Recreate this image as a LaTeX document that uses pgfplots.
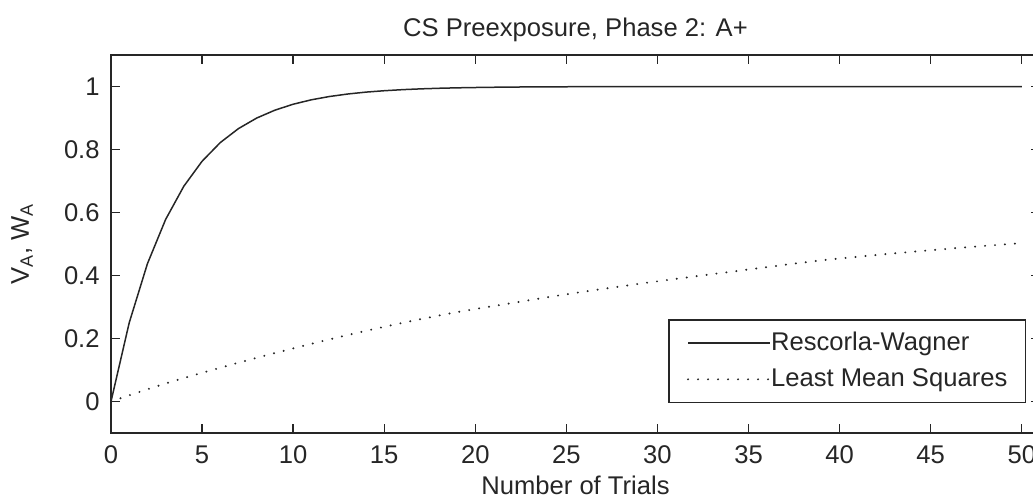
\documentclass[border=0pt]{standalone}
\usepackage{pgfplots}
\pgfplotsset{compat=1.18}
\usepackage{fontspec}
\setmainfont{Liberation Sans}

% Associative strength of A over trials (phase 2, A+)
\newcommand{\rwdata}{
(0,0) (1,0.25) (2,0.4375) (3,0.5781) (4,0.6836) (5,0.7627) (6,0.8220)
(7,0.8665) (8,0.8999) (9,0.9249) (10,0.9437) (11,0.9578) (12,0.9683)
(13,0.9762) (14,0.9822) (15,0.9866) (16,0.9900) (17,0.9925) (18,0.9944)
(19,0.9958) (20,0.9968) (21,0.9976) (22,0.9982) (23,0.9987) (24,0.9990)
(25,0.9992) (26,0.9994) (27,0.9996) (28,0.9997) (29,0.9998) (30,0.9998)
(31,0.9999) (32,0.9999) (33,0.9999) (34,0.9999) (35,1.0000) (36,1.0000)
(37,1.0000) (38,1.0000) (39,1.0000) (40,1.0000) (41,1.0000) (42,1.0000)
(43,1.0000) (44,1.0000) (45,1.0000) (46,1.0000) (47,1.0000) (48,1.0000)
(49,1.0000) (50,1.0000)
}
\newcommand{\lmsdata}{
(0,0) (1,0.0197) (2,0.0387) (3,0.0572) (4,0.0745) (5,0.0910) (6,0.1072)
(7,0.1232) (8,0.1388) (9,0.1538) (10,0.1687) (11,0.1832) (12,0.1973)
(13,0.2110) (14,0.2243) (15,0.2372) (16,0.2495) (17,0.2615) (18,0.2730)
(19,0.2838) (20,0.2937) (21,0.3032) (22,0.3125) (23,0.3220) (24,0.3313)
(25,0.3403) (26,0.3490) (27,0.3575) (28,0.3656) (29,0.3737) (30,0.3816)
(31,0.3892) (32,0.3968) (33,0.4043) (34,0.4115) (35,0.4192) (36,0.4265)
(37,0.4340) (38,0.4413) (39,0.4480) (40,0.4540) (41,0.4597) (42,0.4651)
(43,0.4703) (44,0.4754) (45,0.4803) (46,0.4851) (47,0.4897) (48,0.4942)
(49,0.4985) (50,0.5028)
}

\begin{document}
\begin{tikzpicture}
\begin{axis}[
  name=main,
  at={(0,0)}, anchor=south west,
  scale only axis=true,
  width=464.5pt, height=189pt,
  xmin=0, xmax=51, ymin=-0.1, ymax=1.1,
  xtick={0,5,...,50},
  ytick={0,0.2,0.4,0.6,0.8,1},
  tick align=inside,
  major tick length=4.5pt,
  axis line style={line width=0.8pt, color=black!85},
  every tick/.style={line width=0.7pt, color=black!85},
  /pgf/number format/assume math mode=true,
  tick label style={font=\fontsize{12.8}{15}\selectfont, color=black!85},
  xticklabel style={inner sep=0pt, anchor=north, yshift=-6pt},
  yticklabel style={inner sep=0pt, anchor=east, xshift=-5.5pt},
  title={CS Preexposure, Phase 2: A+},
  title style={at={(0.5,1)}, anchor=base, yshift=3.5pt, inner sep=0pt,
    font=\fontsize{12.8}{15}\selectfont, color=black!85},
  xlabel={Number of Trials},
  xlabel style={at={(axis description cs:0.5,0)}, anchor=base, yshift=-30.5pt,
    inner sep=0pt, font=\fontsize{12.8}{15}\selectfont, color=black!85},
  ylabel={V\textsubscript{A}, W\textsubscript{A}},
  ylabel style={at={(axis description cs:0,0.5)}, anchor=center,
    yshift=44.5pt, inner sep=0pt, font=\fontsize{12.8}{15}\selectfont, color=black!85},
  legend cell align=left,
  legend image code/.code={\draw[#1] (0pt,0pt) -- (41pt,0pt);},
  legend style={
    at={(axis description cs:0.985,0.0794)}, anchor=south east,
    draw=black!85, line width=0.7pt,
    inner xsep=9pt, inner ysep=6.25pt, row sep=7.5pt,
    font=\fontsize{12.8}{15}\selectfont, text=black!85,
    /tikz/every even column/.append style={column sep=3.5pt},
    nodes={inner sep=0pt},
  },
]
\addplot[black!85, line width=0.75pt] coordinates {\rwdata};
\addlegendentry{Rescorla-Wagner}
\addplot[black!85, line width=1.1pt, line cap=round, dash pattern=on 0pt off 5pt] coordinates {\lmsdata};
\addlegendentry{Least Mean Squares}
\end{axis}
\pgfresetboundingbox
\useasboundingbox (-55.5pt,-33pt) rectangle (461pt,216.5pt);
\end{tikzpicture}
\end{document}
